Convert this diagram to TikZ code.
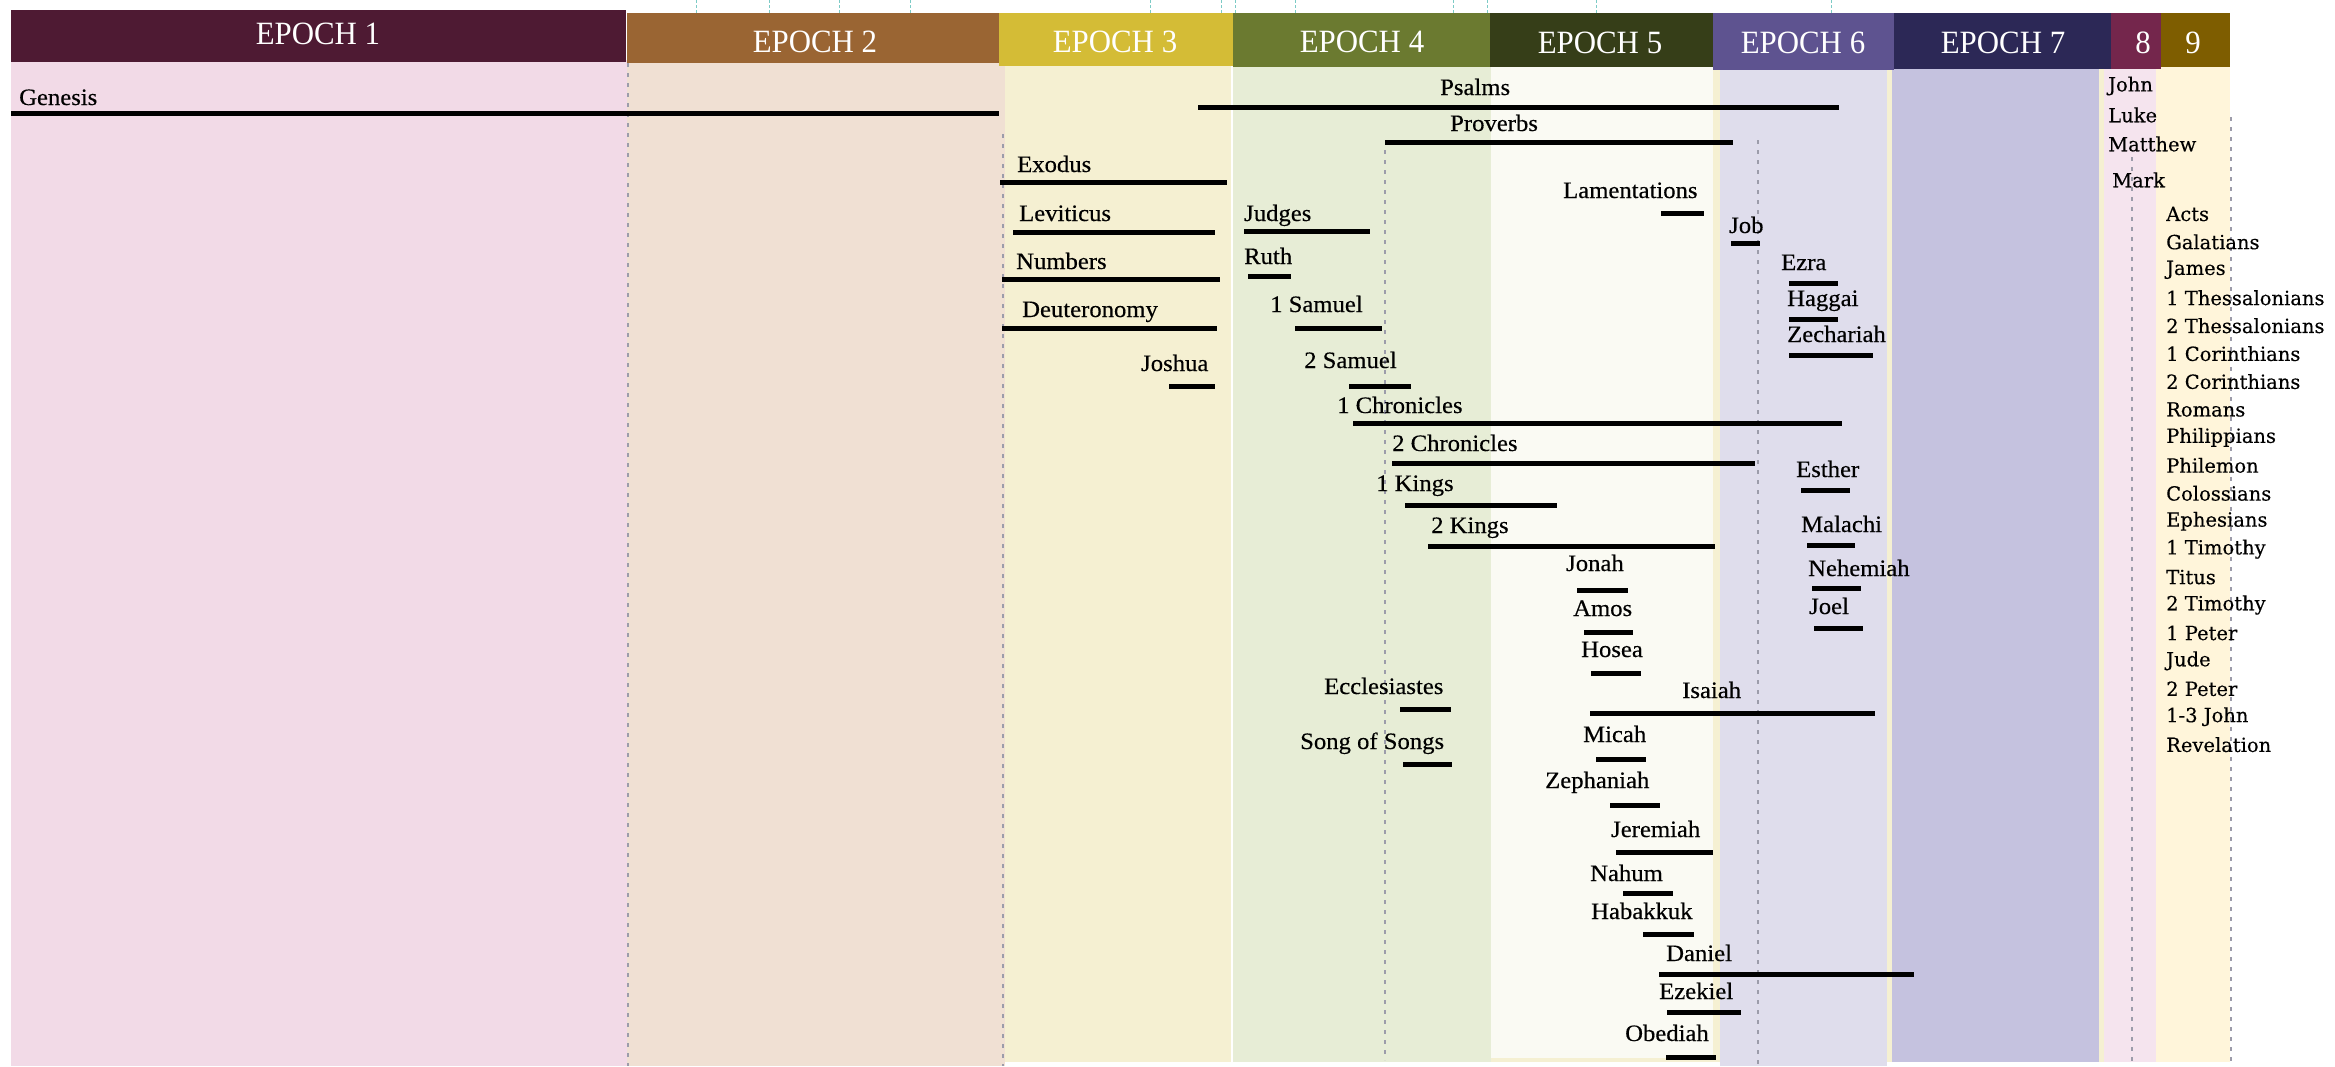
\documentclass[tikz,border=0pt]{standalone}
\usepackage{fontspec}
\setmainfont{Liberation Serif}
\newfontfamily\otfont[FakeStretch=1.05,FakeBold=0.4]{Liberation Serif}
\newfontfamily\ntfont[FakeBold=0.3]{DejaVu Serif}
\newfontfamily\hdfont[FakeStretch=0.95]{Liberation Serif}
\definecolor{hA}{HTML}{4E1A33}
\definecolor{hB}{HTML}{9A6533}
\definecolor{hC}{HTML}{D4BC36}
\definecolor{hD}{HTML}{6B7A30}
\definecolor{hE}{HTML}{363E18}
\definecolor{hF}{HTML}{5E5390}
\definecolor{hG}{HTML}{2C2856}
\definecolor{hH}{HTML}{74264C}
\definecolor{hI}{HTML}{7E5D00}
\definecolor{cA}{HTML}{F2DAE7}
\definecolor{cB}{HTML}{F0E0D3}
\definecolor{cC}{HTML}{F5F0D2}
\definecolor{cD}{HTML}{E7EDD6}
\definecolor{cE}{HTML}{FAFAF3}
\definecolor{cF}{HTML}{DFDDEC}
\definecolor{cG}{HTML}{C5C2DF}
\definecolor{cH}{HTML}{F5E4EE}
\definecolor{cI}{HTML}{FFF5DA}
\definecolor{gridgray}{HTML}{9C9CAA}
\definecolor{tealtick}{HTML}{7CCBC6}
\newcommand\bk[7]{\node[otlab] (#1) at (#3,#4) {#2};\draw[barline] (#5,#7) -- (#6,#7);}
\begin{document}
\begin{tikzpicture}[x=1pt,y=-1pt,
  otlab/.style={anchor=base west, inner sep=0pt, font={\otfont\fontsize{23.5}{25}\selectfont}},
  ntlab/.style={anchor=west, inner sep=0pt, font={\ntfont\fontsize{19.5}{22}\selectfont}},
  barline/.style={line width=5pt, black},
  hdr/.style={text=white, inner sep=0pt, font={\hdfont\fontsize{32.5}{34}\selectfont}},
  gridline/.style={draw=gridgray, line width=1.5pt, dash pattern=on 4pt off 6pt}]
\useasboundingbox (0,0) rectangle (2335,1066);
\fill[white] (0,0) rectangle (2335,1066);
% top ticks
\foreach \x in {696,769,839,910,1150,1221,1235,1295,1453,1487,1596,1831}
  \draw[tealtick, line width=1pt, dash pattern=on 3pt off 2pt] (\x,0) -- (\x,13);
% columns
\fill[cA] (11,60) rectangle (627,1066);
\fill[cB] (627,60) rectangle (1005,1066);
\fill[cC] (1005,64) rectangle (1231,1062);
\fill[cD] (1233,64) rectangle (1491,1062);
\fill[cC] (1491,64) rectangle (2230,1062);
\fill[cE] (1491,64) rectangle (1713,1058);
\fill[cF] (1720,68) rectangle (1887,1066);
\fill[cG] (1892,68) rectangle (2099,1062);
\fill[cH] (2104,68) rectangle (2156,1062);
\fill[cI] (2156,66) rectangle (2230,1062);
% dashed guides
\draw[gridline] (628,63) -- (628,1066);
\draw[gridline] (1003,134) -- (1003,1066);
\draw[gridline] (1385,150) -- (1385,1060);
\draw[gridline] (1758,140) -- (1758,1066);
\draw[gridline] (2132,157) -- (2132,1062);
\draw[gridline] (2231,117) -- (2231,1062);
% headers
\fill[hA] (11,10) rectangle (626,62);
\fill[hB] (627,13) rectangle (999,63);
\fill[hC] (999,13) rectangle (1233,66);
\fill[hD] (1233,13) rectangle (1490,67);
\fill[hE] (1490,13) rectangle (1713,67);
\fill[hF] (1713,13) rectangle (1894,70);
\fill[hG] (1894,13) rectangle (2111,69);
\fill[hH] (2111,13) rectangle (2161,69);
\fill[hI] (2161,13) rectangle (2230,67);
\node[hdr] (e1) at (318,34) {EPOCH 1};
\node[hdr] (e2) at (815,42) {EPOCH 2};
\node[hdr] (e3) at (1115,42) {EPOCH 3};
\node[hdr] (e4) at (1362,42) {EPOCH 4};
\node[hdr] (e5) at (1600,43) {EPOCH 5};
\node[hdr] (e6) at (1803,43) {EPOCH 6};
\node[hdr] (e7) at (2003,43) {EPOCH 7};
\node[hdr] (e8) at (2143,43) {8};
\node[hdr] (e9) at (2193,43) {9};
% Old Testament bars
\bk{gen}{Genesis}{19}{105}{11}{999}{113}
\bk{psa}{Psalms}{1440}{95}{1198}{1839}{107}
\bk{pro}{Proverbs}{1450}{131}{1385}{1733}{142}
\bk{exo}{Exodus}{1017}{172}{1000}{1227}{182}
\bk{lev}{Leviticus}{1019}{221}{1013}{1215}{232}
\bk{num}{Numbers}{1016}{269}{1002}{1220}{279}
\bk{deu}{Deuteronomy}{1022}{317}{1002}{1217}{328}
\bk{jos}{Joshua}{1141}{371}{1169}{1215}{386}
\bk{jdg}{Judges}{1244}{221}{1244}{1370}{231}
\bk{rut}{Ruth}{1244}{264}{1248}{1291}{276}
\bk{sama}{1 Samuel}{1270}{312}{1295}{1382}{328}
\bk{samb}{2 Samuel}{1304}{368}{1349}{1411}{386}
\bk{chra}{1 Chronicles}{1337}{413}{1353}{1842}{423}
\bk{chrb}{2 Chronicles}{1392}{451}{1392}{1755}{463}
\bk{kga}{1 Kings}{1376}{491}{1405}{1557}{505}
\bk{kgb}{2 Kings}{1431}{533}{1428}{1715}{546}
\bk{lam}{Lamentations}{1563}{198}{1661}{1704}{213}
\bk{job}{Job}{1729}{233}{1731}{1760}{243}
\bk{ezr}{Ezra}{1781}{270}{1789}{1838}{283}
\bk{hag}{Haggai}{1787}{306}{1789}{1838}{319}
\bk{zec}{Zechariah}{1787}{342}{1789}{1873}{355}
\bk{est}{Esther}{1796}{477}{1801}{1850}{490}
\bk{mal}{Malachi}{1801}{532}{1807}{1855}{545}
\bk{neh}{Nehemiah}{1808}{576}{1812}{1861}{588}
\bk{joe}{Joel}{1809}{614}{1814}{1863}{628}
\bk{jon}{Jonah}{1566}{571}{1577}{1628}{590}
\bk{amo}{Amos}{1573}{616}{1584}{1633}{632}
\bk{hos}{Hosea}{1581}{657}{1591}{1641}{673}
\bk{ecc}{Ecclesiastes}{1324}{694}{1400}{1451}{709}
\bk{isa}{Isaiah}{1682}{698}{1590}{1875}{713}
\bk{sos}{Song of Songs}{1300}{749}{1403}{1452}{764}
\bk{mic}{Micah}{1583}{742}{1596}{1646}{759}
\bk{zep}{Zephaniah}{1545}{788}{1610}{1660}{805}
\bk{jer}{Jeremiah}{1611}{837}{1616}{1713}{852}
\bk{nah}{Nahum}{1590}{881}{1623}{1673}{893}
\bk{hab}{Habakkuk}{1591}{919}{1643}{1694}{934}
\bk{dan}{Daniel}{1666}{961}{1659}{1914}{974}
\bk{eze}{Ezekiel}{1659}{999}{1667}{1741}{1012}
\bk{oba}{Obediah}{1625}{1041}{1666}{1716}{1057}
% New Testament
\node[ntlab] (john) at (2108,86) {John};
\node[ntlab] (luke) at (2108,115) {Luke};
\node[ntlab] (matt) at (2108,144) {Matthew};
\node[ntlab] (mark) at (2112,180) {Mark};
\foreach \t [count=\i from 0] in {Acts,Galatians,James,1 Thessalonians,2 Thessalonians,1 Corinthians,2 Corinthians,Romans,Philippians,Philemon,Colossians,Ephesians,1 Timothy,Titus,2 Timothy,1 Peter,Jude,2 Peter,1-3 John,Revelation}
  \node[ntlab] (nt\i) at (2166,214+27.93*\i) {\t};
\end{tikzpicture}
\end{document}
